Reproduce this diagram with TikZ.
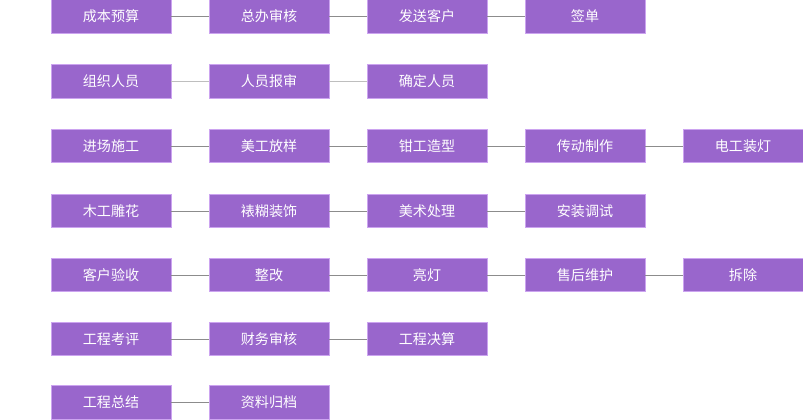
\documentclass[tikz,border=0pt]{standalone}
\usepackage{xcolor}
\usepackage{tikz}
\usepackage{fontspec}
\newfontfamily\cjk{Noto Sans CJK SC}
\usetikzlibrary{positioning}
\definecolor{stepcolor}{RGB}{153, 102, 204}
\definecolor{edgecolor}{RGB}{204, 164, 240}
\definecolor{linkcolor}{RGB}{140, 140, 140}
\definecolor{lightlinkcolor}{RGB}{190, 190, 190}
\tikzstyle{stepbox} = [rectangle, minimum width=3cm, minimum height=0.8375cm, inner sep=0pt, text centered, draw=edgecolor, fill=stepcolor, line width=0.4pt, text=white, font=\cjk\fontsize{10pt}{12pt}\selectfont]
\tikzstyle{link} = [draw=linkcolor, line width=0.6pt]
\tikzstyle{lightlink} = [draw=lightlinkcolor, line width=0.6pt]

\begin{document}
\begin{tikzpicture}

\useasboundingbox (0,0) rectangle (20.075,-10.475);

% Ligne 1
\node (cbys) [stepbox] at (2.775,-0.4125) {成本预算};
\node (zbsh) [stepbox] at (6.725,-0.4125) {总办审核};
\node (fskh) [stepbox] at (10.675,-0.4125) {发送客户};
\node (qd) [stepbox] at (14.625,-0.4125) {签单};

% Ligne 2
\node (zzry) [stepbox] at (2.775,-2.0375) {组织人员};
\node (rybs) [stepbox] at (6.725,-2.0375) {人员报审};
\node (qdry) [stepbox] at (10.675,-2.0375) {确定人员};

% Ligne 3
\node (jcsg) [stepbox] at (2.775,-3.65) {进场施工};
\node (mgfy) [stepbox] at (6.725,-3.65) {美工放样};
\node (qgzx) [stepbox] at (10.675,-3.65) {钳工造型};
\node (cdzz) [stepbox] at (14.625,-3.65) {传动制作};
\node (dgzd) [stepbox] at (18.575,-3.65) {电工装灯};

% Ligne 4
\node (mgdh) [stepbox] at (2.775,-5.275) {木工雕花};
\node (bhzs) [stepbox] at (6.725,-5.275) {裱糊装饰};
\node (mscl) [stepbox] at (10.675,-5.275) {美术处理};
\node (aztc) [stepbox] at (14.625,-5.275) {安装调试};

% Ligne 5
\node (khys) [stepbox] at (2.775,-6.875) {客户验收};
\node (zg) [stepbox] at (6.725,-6.875) {整改};
\node (ld) [stepbox] at (10.675,-6.875) {亮灯};
\node (shwh) [stepbox] at (14.625,-6.875) {售后维护};
\node (cc) [stepbox] at (18.575,-6.875) {拆除};

% Ligne 6
\node (gckp) [stepbox] at (2.775,-8.475) {工程考评};
\node (cwsh) [stepbox] at (6.725,-8.475) {财务审核};
\node (gcjs) [stepbox] at (10.675,-8.475) {工程决算};

% Ligne 7
\node (gczj) [stepbox] at (2.775,-10.0625) {工程总结};
\node (zlgd) [stepbox] at (6.725,-10.0625) {资料归档};

% Liaisons
\draw [link] (cbys) -- (zbsh);
\draw [link] (zbsh) -- (fskh);
\draw [link] (fskh) -- (qd);
\draw [lightlink] (zzry) -- (rybs);
\draw [lightlink] (rybs) -- (qdry);
\draw [link] (jcsg) -- (mgfy);
\draw [link] (mgfy) -- (qgzx);
\draw [link] (qgzx) -- (cdzz);
\draw [link] (cdzz) -- (dgzd);
\draw [link] (mgdh) -- (bhzs);
\draw [link] (bhzs) -- (mscl);
\draw [link] (mscl) -- (aztc);
\draw [link] (khys) -- (zg);
\draw [link] (zg) -- (ld);
\draw [link] (ld) -- (shwh);
\draw [link] (shwh) -- (cc);
\draw [link] (gckp) -- (cwsh);
\draw [link] (cwsh) -- (gcjs);
\draw [link] (gczj) -- (zlgd);

\end{tikzpicture}
\end{document}
